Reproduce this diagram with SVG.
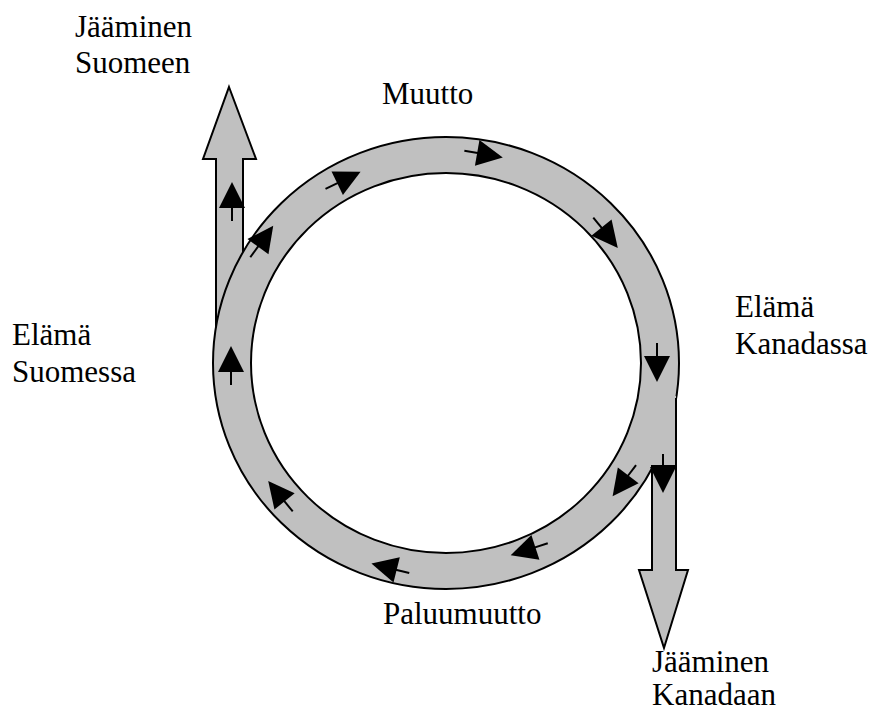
<svg xmlns="http://www.w3.org/2000/svg" xmlns:xlink="http://www.w3.org/1999/xlink" width="873" height="711" viewBox="0 0 873 711">
<style>
.lbl{font-family:'Times New Roman',Tinos,'Liberation Serif','DejaVu Serif',serif;font-size:31px;fill:#000}
.band{fill:#c0c0c0;stroke:#000;stroke-width:2;stroke-linejoin:miter}
.edge{fill:none;stroke:#000;stroke-width:2}
</style>
<defs>
<g id="ar">
<line x1="0" y1="10" x2="0" y2="25" stroke="#000" stroke-width="2"/>
<polygon points="0,-14 13,12 -13,12" fill="#000"/>
</g>
</defs>
<rect width="873" height="711" fill="#fff"/>
<g id="stay-finland">
<polygon class="band" points="229,87 256,159 243,159 243,345 216,345 216,159 203,159"/>
</g>
<g id="cycle">
<path class="band" fill-rule="evenodd" d="M213,363 A233,226 0 1,0 679,363 A233,226 0 1,0 213,363 Z M251,363 A195,190 0 1,1 641,363 A195,190 0 1,1 251,363 Z"/>
</g>
<g id="stay-canada">
<polygon points="652,396 676,396 676,570 688,570 664,648 639,570 652,570" fill="#c0c0c0"/>
<polyline class="edge" points="676,398 676,570 688,570 664,648 639,570 652,570 652,466 676,466"/>
</g>
<g id="connectors">
<use xlink:href="#ar" transform="translate(232,196)"/>
<use xlink:href="#ar" transform="translate(265,237) rotate(36)"/>
<use xlink:href="#ar" transform="translate(348,178) rotate(64)"/>
<use xlink:href="#ar" transform="translate(489,155) rotate(100)"/>
<use xlink:href="#ar" transform="translate(609,237) rotate(141)"/>
<use xlink:href="#ar" transform="translate(657,368) rotate(180)"/>
<use xlink:href="#ar" transform="translate(663,479) rotate(180)"/>
<use xlink:href="#ar" transform="translate(621,485) rotate(217)"/>
<use xlink:href="#ar" transform="translate(524,551) rotate(252)"/>
<use xlink:href="#ar" transform="translate(385,567) rotate(284)"/>
<use xlink:href="#ar" transform="translate(277,492) rotate(321)"/>
<use xlink:href="#ar" transform="translate(231,360)"/>
</g>
<g id="labels">
<text class="lbl" x="75" y="37">Jääminen</text>
<text class="lbl" x="75" y="73">Suomeen</text>
<text class="lbl" x="382" y="104">Muutto</text>
<text class="lbl" x="12" y="345">Elämä</text>
<text class="lbl" x="12" y="382">Suomessa</text>
<text class="lbl" x="735" y="317">Elämä</text>
<text class="lbl" x="735" y="354">Kanadassa</text>
<text class="lbl" x="383" y="624">Paluumuutto</text>
<text class="lbl" x="652" y="672">Jääminen</text>
<text class="lbl" x="652" y="705">Kanadaan</text>
</g>
</svg>
